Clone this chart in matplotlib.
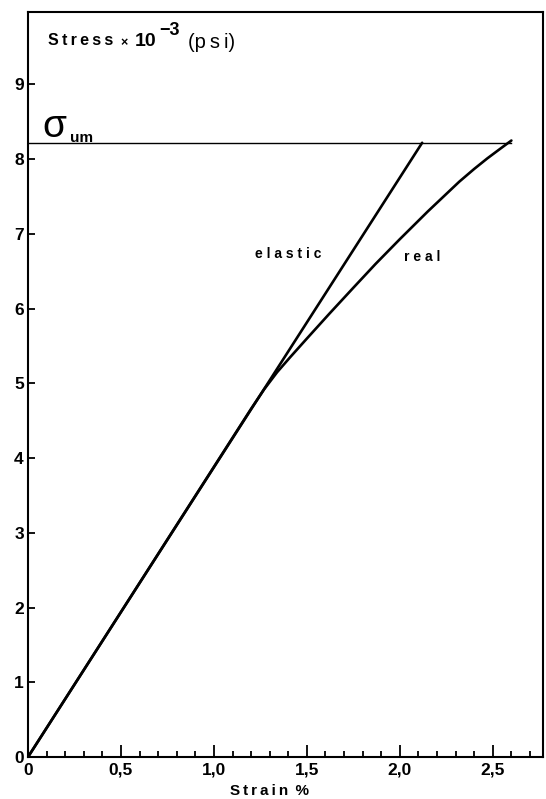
import matplotlib
matplotlib.use("Agg")
import matplotlib.pyplot as plt
from matplotlib.ticker import MultipleLocator, FixedLocator

# Ultimate stress (psi x 10^-3)
sigma_um = 8.22

# Linear-elastic response
elastic_strain = [0.0, 2.12]
elastic_stress = [0.0, 8.22]

# Measured ("real") response
real_strain = [0.0, 1.20, 1.27, 1.34, 1.41, 1.50, 1.62, 1.75, 1.87, 2.00, 2.15, 2.32, 2.40, 2.47, 2.54, 2.60]
real_stress = [0.0, 4.66, 4.92, 5.15, 5.35, 5.60, 5.93, 6.28, 6.60, 6.93, 7.30, 7.70, 7.87, 8.01, 8.14, 8.25]

x_ticks = [0.0, 0.5, 1.0, 1.5, 2.0, 2.5]
x_tick_labels = ["0", "0,5", "1,0", "1,5", "2,0", "2,5"]
y_ticks = [0, 1, 2, 3, 4, 5, 6, 7, 8, 9]

plt.rcParams["font.family"] = ["Liberation Sans", "DejaVu Sans"]
TS = "\u2009"  # thin space used for letter spacing


def spaced(word):
    return TS.join(word)


fig = plt.figure(figsize=(5.46, 7.99), dpi=100)
ax = fig.add_axes([28 / 546, 1 - 757 / 799, (543 - 28) / 546, (757 - 12) / 799])

ax.plot(elastic_strain, elastic_stress, color="black", lw=1.9,
        solid_capstyle="round", solid_joinstyle="round")
ax.plot(real_strain, real_stress, color="black", lw=1.9,
        solid_capstyle="round", solid_joinstyle="round")
ax.plot([0, real_strain[-1]], [sigma_um, sigma_um], color="black", lw=1.0)

ax.set_xlim(0, 2.77)
ax.set_ylim(0, 9.97)

for s in ax.spines.values():
    s.set_linewidth(1.5)

ax.xaxis.set_major_locator(FixedLocator(x_ticks))
ax.set_xticklabels(x_tick_labels)
ax.xaxis.set_minor_locator(MultipleLocator(0.1))
ax.yaxis.set_major_locator(FixedLocator(y_ticks))
ax.set_yticklabels([str(v) for v in y_ticks])

ax.tick_params(axis="x", which="major", direction="in", length=9, width=1.3,
               pad=4, labelsize=12.5)
ax.tick_params(axis="x", which="minor", direction="in", length=4.5, width=1.3)
ax.tick_params(axis="y", which="major", direction="in", length=5, width=1.3,
               pad=3, labelsize=12.5)
for lab in ax.get_xticklabels() + ax.get_yticklabels():
    lab.set_fontweight("bold")

# Axis label for strain
fig.text(270 / 546, 1 - 791 / 799, spaced("Strain") + " " + TS + "%", fontsize=11,
         fontweight="bold", ha="center", va="center")

# Axis title inside the plot
ax.text(0.1075, 9.585, spaced("Stress"), fontsize=11.5, fontweight="bold", va="center", ha="left")
ax.text(0.516, 9.56, "×", fontsize=9, fontweight="bold", va="center", ha="center")
ax.text(0.575, 9.57, "10", fontsize=14, fontweight="bold", va="center", ha="left")
ax.text(0.705, 9.72, "\u22123", fontsize=13, fontweight="bold", va="center", ha="left")
ax.text(0.86, 9.56, "(" + spaced("psi") + ")", fontsize=14.5, va="center", ha="left")

# Ultimate stress label
ax.text(0.075, 8.30, "σ", fontsize=28, va="baseline", ha="left")
ax.text(0.226, 8.235, "um", fontsize=11, fontweight="bold", va="baseline", ha="left")

# Curve labels
ax.text(1.40, 6.73, "e l a s t i c", fontsize=10, fontweight="bold", va="center", ha="center")
ax.text(2.12, 6.69, "r e a l", fontsize=10, fontweight="bold", va="center", ha="center")

fig.savefig("out.png", dpi=100)
